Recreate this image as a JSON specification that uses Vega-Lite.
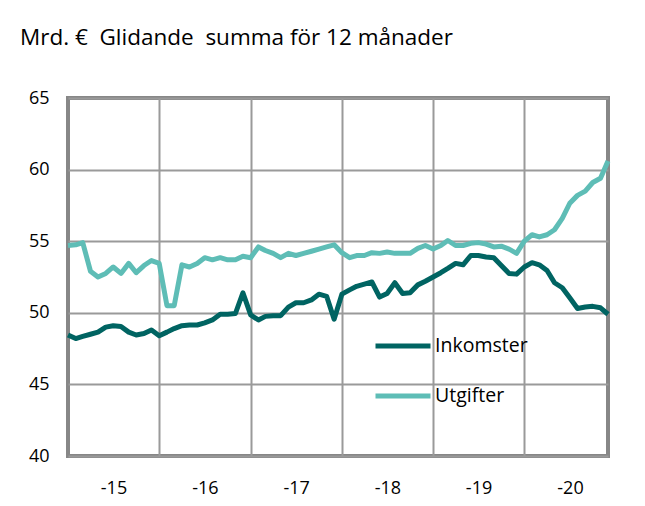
{
  "$schema": "https://vega.github.io/schema/vega-lite/v6.json",
  "width": 540,
  "height": 358,
  "autosize": "none",
  "padding": {"left": 68, "top": 98, "right": 37, "bottom": 50},
  "background": "white",
  "config": {
    "font": "Open Sans",
    "view": {"stroke": "#878787", "strokeWidth": 4}
  },
  "title": {
    "text": "Mrd. € \u00a0Glidande \u00a0summa för 12 månader",
    "anchor": "start",
    "frame": "group",
    "dx": -48,
    "offset": 40,
    "fontSize": 22.5,
    "fontWeight": "normal",
    "color": "#000000"
  },
  "data": {
    "values": [
      {"m": "2015-01", "Inkomster": 48.45, "Utgifter": 54.7},
      {"m": "2015-02", "Inkomster": 48.2, "Utgifter": 54.75},
      {"m": "2015-03", "Inkomster": 48.35, "Utgifter": 54.9},
      {"m": "2015-04", "Inkomster": 48.5, "Utgifter": 52.9},
      {"m": "2015-05", "Inkomster": 48.65, "Utgifter": 52.5},
      {"m": "2015-06", "Inkomster": 49.0, "Utgifter": 52.75},
      {"m": "2015-07", "Inkomster": 49.1, "Utgifter": 53.2},
      {"m": "2015-08", "Inkomster": 49.05, "Utgifter": 52.75},
      {"m": "2015-09", "Inkomster": 48.65, "Utgifter": 53.45},
      {"m": "2015-10", "Inkomster": 48.45, "Utgifter": 52.8},
      {"m": "2015-11", "Inkomster": 48.55, "Utgifter": 53.3},
      {"m": "2015-12", "Inkomster": 48.8, "Utgifter": 53.65},
      {"m": "2016-01", "Inkomster": 48.4, "Utgifter": 53.45},
      {"m": "2016-02", "Inkomster": 48.65, "Utgifter": 50.5},
      {"m": "2016-03", "Inkomster": 48.9, "Utgifter": 50.5},
      {"m": "2016-04", "Inkomster": 49.1, "Utgifter": 53.35},
      {"m": "2016-05", "Inkomster": 49.15, "Utgifter": 53.2},
      {"m": "2016-06", "Inkomster": 49.15, "Utgifter": 53.45},
      {"m": "2016-07", "Inkomster": 49.3, "Utgifter": 53.85},
      {"m": "2016-08", "Inkomster": 49.5, "Utgifter": 53.7},
      {"m": "2016-09", "Inkomster": 49.9, "Utgifter": 53.85},
      {"m": "2016-10", "Inkomster": 49.9, "Utgifter": 53.7},
      {"m": "2016-11", "Inkomster": 49.95, "Utgifter": 53.7},
      {"m": "2016-12", "Inkomster": 51.4, "Utgifter": 53.95},
      {"m": "2017-01", "Inkomster": 49.85, "Utgifter": 53.85},
      {"m": "2017-02", "Inkomster": 49.5, "Utgifter": 54.6},
      {"m": "2017-03", "Inkomster": 49.75, "Utgifter": 54.35},
      {"m": "2017-04", "Inkomster": 49.8, "Utgifter": 54.15},
      {"m": "2017-05", "Inkomster": 49.8, "Utgifter": 53.85},
      {"m": "2017-06", "Inkomster": 50.4, "Utgifter": 54.15},
      {"m": "2017-07", "Inkomster": 50.7, "Utgifter": 54.0},
      {"m": "2017-08", "Inkomster": 50.7, "Utgifter": 54.15},
      {"m": "2017-09", "Inkomster": 50.9, "Utgifter": 54.3},
      {"m": "2017-10", "Inkomster": 51.3, "Utgifter": 54.45},
      {"m": "2017-11", "Inkomster": 51.15, "Utgifter": 54.6},
      {"m": "2017-12", "Inkomster": 49.55, "Utgifter": 54.75},
      {"m": "2018-01", "Inkomster": 51.3, "Utgifter": 54.2},
      {"m": "2018-02", "Inkomster": 51.6, "Utgifter": 53.85},
      {"m": "2018-03", "Inkomster": 51.85, "Utgifter": 54.0},
      {"m": "2018-04", "Inkomster": 52.0, "Utgifter": 54.0},
      {"m": "2018-05", "Inkomster": 52.15, "Utgifter": 54.2},
      {"m": "2018-06", "Inkomster": 51.1, "Utgifter": 54.15},
      {"m": "2018-07", "Inkomster": 51.35, "Utgifter": 54.25},
      {"m": "2018-08", "Inkomster": 52.1, "Utgifter": 54.15},
      {"m": "2018-09", "Inkomster": 51.35, "Utgifter": 54.15},
      {"m": "2018-10", "Inkomster": 51.4, "Utgifter": 54.15},
      {"m": "2018-11", "Inkomster": 51.95, "Utgifter": 54.5},
      {"m": "2018-12", "Inkomster": 52.2, "Utgifter": 54.7},
      {"m": "2019-01", "Inkomster": 52.5, "Utgifter": 54.45},
      {"m": "2019-02", "Inkomster": 52.8, "Utgifter": 54.7},
      {"m": "2019-03", "Inkomster": 53.1, "Utgifter": 55.05},
      {"m": "2019-04", "Inkomster": 53.45, "Utgifter": 54.7},
      {"m": "2019-05", "Inkomster": 53.35, "Utgifter": 54.7},
      {"m": "2019-06", "Inkomster": 54.0, "Utgifter": 54.85},
      {"m": "2019-07", "Inkomster": 54.0, "Utgifter": 54.9},
      {"m": "2019-08", "Inkomster": 53.9, "Utgifter": 54.8},
      {"m": "2019-09", "Inkomster": 53.85, "Utgifter": 54.6},
      {"m": "2019-10", "Inkomster": 53.3, "Utgifter": 54.65},
      {"m": "2019-11", "Inkomster": 52.75, "Utgifter": 54.45},
      {"m": "2019-12", "Inkomster": 52.7, "Utgifter": 54.15},
      {"m": "2020-01", "Inkomster": 53.2, "Utgifter": 55.0},
      {"m": "2020-02", "Inkomster": 53.5, "Utgifter": 55.45},
      {"m": "2020-03", "Inkomster": 53.35, "Utgifter": 55.3},
      {"m": "2020-04", "Inkomster": 52.95, "Utgifter": 55.45},
      {"m": "2020-05", "Inkomster": 52.1, "Utgifter": 55.8},
      {"m": "2020-06", "Inkomster": 51.75, "Utgifter": 56.6},
      {"m": "2020-07", "Inkomster": 51.05, "Utgifter": 57.65},
      {"m": "2020-08", "Inkomster": 50.3, "Utgifter": 58.2},
      {"m": "2020-09", "Inkomster": 50.4, "Utgifter": 58.5},
      {"m": "2020-10", "Inkomster": 50.45, "Utgifter": 59.1},
      {"m": "2020-11", "Inkomster": 50.35, "Utgifter": 59.4},
      {"m": "2020-12", "Inkomster": 49.9, "Utgifter": 60.6}
    ],
    "format": {"parse": {"m": "date:'%Y-%m'"}}
  },
  "transform": [
    {"fold": ["Inkomster", "Utgifter"], "as": ["serie", "varde"]}
  ],
  "encoding": {
    "y": {
      "field": "varde",
      "type": "quantitative",
      "scale": {"domain": [40, 65], "nice": false, "zero": false},
      "axis": {
        "title": null,
        "values": [40, 45, 50, 55, 60, 65],
        "grid": true,
        "gridColor": "#9a9a9a",
        "gridWidth": 2,
        "domain": false,
        "ticks": false,
        "labelPadding": 19,
        "labelFontSize": 18,
        "labelColor": "#000000",
        "labelFont": "Open Sans"
      }
    },
    "color": {
      "field": "serie",
      "type": "nominal",
      "scale": {"domain": ["Inkomster", "Utgifter"], "range": ["#006462", "#5ebdb6"]},
      "legend": {
        "title": null,
        "orient": "none",
        "legendX": 305,
        "legendY": 218,
        "symbolType": "stroke",
        "symbolSize": 3025,
        "symbolStrokeWidth": 5,
        "labelFontSize": 19.5,
        "labelFont": "Open Sans",
        "labelColor": "#000000",
        "labelOffset": 2,
        "rowPadding": 10
      }
    }
  },
  "layer": [
    {
      "transform": [{"filter": "datum.serie == 'Utgifter'"}],
      "mark": {"type": "line", "strokeWidth": 5, "strokeJoin": "round"},
      "encoding": {
        "x": {
          "field": "m",
          "type": "temporal",
          "scale": {"domain": [{"year": 2015, "month": 1, "date": 1}, {"year": 2020, "month": 12, "date": 1}]},
          "axis": {
            "orient": "top",
            "title": null,
            "values": [
              {"year": 2016, "month": 1, "date": 1},
              {"year": 2017, "month": 1, "date": 1},
              {"year": 2018, "month": 1, "date": 1},
              {"year": 2019, "month": 1, "date": 1},
              {"year": 2020, "month": 1, "date": 1}
            ],
            "grid": true,
            "gridColor": "#9a9a9a",
            "gridWidth": 2,
            "labels": false,
            "ticks": false,
            "domain": false
          }
        }
      }
    },
    {
      "transform": [{"filter": "datum.serie == 'Inkomster'"}],
      "mark": {"type": "line", "strokeWidth": 5, "strokeJoin": "round"},
      "encoding": {
        "x": {
          "field": "m",
          "type": "temporal",
          "axis": {
            "orient": "bottom",
            "title": null,
            "values": [
              {"year": 2015, "month": 7, "date": 2},
              {"year": 2016, "month": 7, "date": 2},
              {"year": 2017, "month": 7, "date": 2},
              {"year": 2018, "month": 7, "date": 2},
              {"year": 2019, "month": 7, "date": 2},
              {"year": 2020, "month": 7, "date": 2}
            ],
            "labelExpr": "'-' + timeFormat(datum.value, '%y')",
            "grid": false,
            "ticks": false,
            "domain": false,
            "labelPadding": 23,
            "labelFontSize": 18,
            "labelColor": "#000000",
            "labelFont": "Open Sans"
          }
        }
      }
    }
  ],
  "resolve": {"axis": {"x": "independent"}}
}
